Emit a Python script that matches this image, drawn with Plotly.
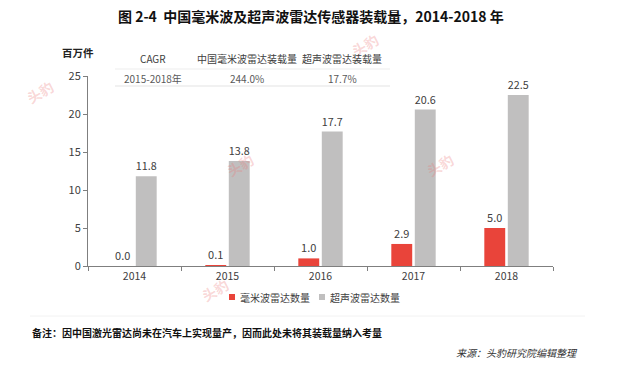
import plotly.graph_objects as go

years = ["2014", "2015", "2016", "2017", "2018"]
mmwave = [0.0, 0.1, 1.0, 2.9, 5.0]
ultrasonic = [11.8, 13.8, 17.7, 20.6, 22.5]
series_names = ["毫米波雷达数量", "超声波雷达数量"]
series_colors = ["#E9443A", "#C0BFBF"]
table_header = ["CAGR", "中国毫米波雷达装载量", "超声波雷达装载量"]
table_row = ["2015-2018年", "244.0%", "17.7%"]
y_ticks = [0, 5, 10, 15, 20, 25]

FONT = "Noto Sans CJK SC, Noto Sans, sans-serif"
W, H = 621, 369
L, R, T, B = 88, 553, 76, 266


def px(x):
    return (x - L) / (R - L)


def py(y):
    return (B - y) / (B - T)


fig = go.Figure()
for vals, name, col in zip([mmwave, ultrasonic], series_names, series_colors):
    fig.add_trace(go.Bar(
        x=years, y=vals, name=name,
        marker=dict(color=col, line=dict(width=0)),
        text=[f"{v:.1f}" for v in vals], textposition="outside",
        textfont=dict(size=11, color="#404040", family=FONT),
        cliponaxis=False, showlegend=False, hoverinfo="skip",
    ))

annotations = []


def note(x, y, text, size, color, xanchor="center", angle=0):
    annotations.append(dict(x=px(x), y=py(y), xref="paper", yref="paper",
                            xanchor=xanchor, yanchor="middle", text=text,
                            showarrow=False, textangle=angle,
                            font=dict(size=size, color=color, family=FONT)))


# faint watermarks (drawn first, behind text)
for wx, wy in [(40, 92), (365, 45), (240, 165), (440, 165), (215, 290)]:
    note(wx, wy, "<b>头豹</b>", 14, "rgba(235,120,120,0.30)", angle=-30)

note(311, 16, "<b>图 2-4  中国毫米波及超声波雷达传感器装载量，2014-2018 年</b>", 14, "#111")
note(78, 52, "<b>百万件</b>", 10.5, "#222")
col_x = [153, 247, 342]
for cx, h, r in zip(col_x, table_header, table_row):
    note(cx, 59, h, 10, "#404040")
    note(cx, 78, r, 10, "#595959")
note(30, 332, "<b>备注：因中国激光雷达尚未在汽车上实现量产，因而此处未将其装载量纳入考量</b>", 10, "#111", xanchor="left")
note(580, 352, "<i>来源：头豹研究院编辑整理</i>", 10, "#333", xanchor="right")

# custom legend
leg_items = [(229, series_names[0], series_colors[0]), (319, series_names[1], series_colors[1])]
shapes = []
for lx, name, col in leg_items:
    shapes.append(dict(type="rect", xref="paper", yref="paper",
                       x0=px(lx), x1=px(lx + 6), y0=py(300), y1=py(294),
                       fillcolor=col, line=dict(width=0)))
    note(lx + 9, 297, name, 10, "#404040", xanchor="left")

shapes += [
    dict(type="line", xref="paper", yref="paper", x0=px(115), x1=px(390), y0=py(69), y1=py(69),
         line=dict(color="#EDEDED", width=1)),
    dict(type="line", xref="paper", yref="paper", x0=px(115), x1=px(390), y0=py(86), y1=py(86),
         line=dict(color="#E3E3E3", width=1)),
    dict(type="line", xref="paper", yref="paper", x0=px(30), x1=px(585), y0=py(316), y1=py(316),
         line=dict(color="#F2F2F2", width=1)),
]

fig.update_layout(
    width=W, height=H,
    margin=dict(l=L, r=W - R, t=T, b=H - B),
    paper_bgcolor="white", plot_bgcolor="white",
    barmode="group", bargap=0.495, bargroupgap=0.11,
    font=dict(family=FONT, size=11, color="#404040"),
    showlegend=False,
    annotations=annotations,
    shapes=shapes,
)
fig.update_xaxes(showline=True, linecolor="#7F7F7F", linewidth=1, ticks="outside",
                 tickson="boundaries", ticklen=4, tickcolor="#7F7F7F",
                 tickfont=dict(size=10.5, color="#404040"), showgrid=False)
fig.update_yaxes(range=[0, 25], tickvals=y_ticks, showline=True, linecolor="#7F7F7F",
                 linewidth=1, ticks="outside", ticklen=4, tickcolor="#7F7F7F",
                 tickfont=dict(size=11, color="#404040"), showgrid=False, zeroline=False)

fig.write_html("out.html", config={"displayModeBar": False},
               post_script="document.body.style.margin='0';")
